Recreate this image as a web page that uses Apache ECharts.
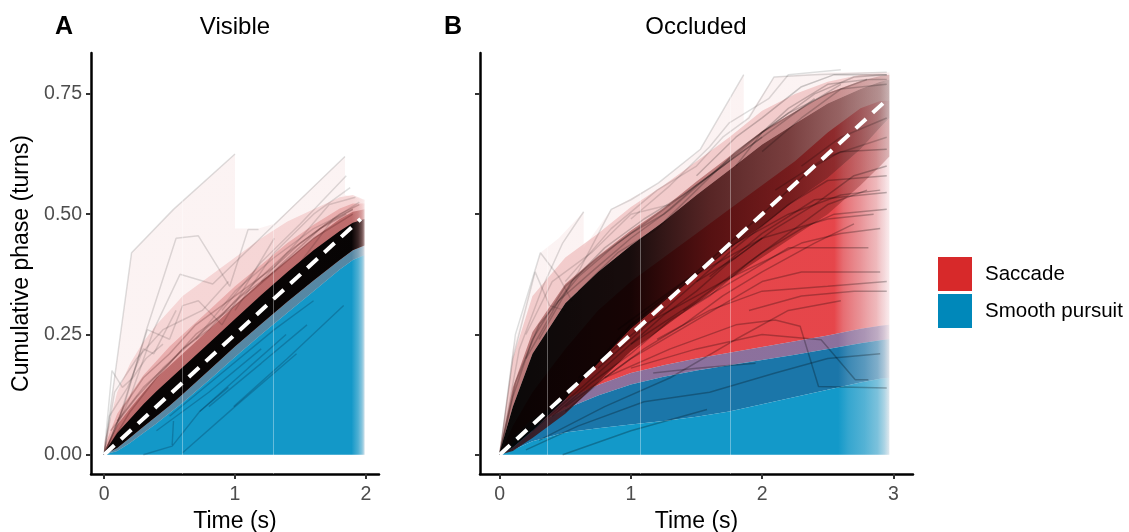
<!DOCTYPE html>
<html><head><meta charset="utf-8">
<script src="https://cdn.jsdelivr.net/npm/echarts@6/dist/echarts.min.js"></script>
<style>html,body{margin:0;padding:0;background:#fff}#c{width:1129px;height:532px}</style>
</head><body><div id="c"></div>
<script>
// ---------- tick labels ----------
const xTicksA = [0, 1, 2];
const xTicksB = [0, 1, 2, 3];
const yTicks = [0, 0.25, 0.5, 0.75];

// ---------- Panel A (Visible) ----------
const tA        = [0, 0.1, 0.2, 0.3, 0.4, 0.5, 0.6, 0.8, 1.0, 1.2, 1.4, 1.6, 1.8, 1.9, 1.99];
const blueTopA  = [0, 0.008, 0.025, 0.045, 0.065, 0.087, 0.108, 0.155, 0.203, 0.25, 0.295, 0.34, 0.385, 0.405, 0.415];
const coreLoA   = [0, 0.014, 0.036, 0.058, 0.08, 0.102, 0.126, 0.175, 0.225, 0.272, 0.318, 0.362, 0.405, 0.425, 0.435];
const coreHiA   = [0.004, 0.045, 0.075, 0.105, 0.132, 0.157, 0.182, 0.232, 0.282, 0.332, 0.38, 0.425, 0.465, 0.482, 0.49];
const haloHiA   = [0.008, 0.062, 0.097, 0.13, 0.16, 0.185, 0.21, 0.26, 0.31, 0.36, 0.405, 0.45, 0.49, 0.505, 0.51];
const pinkNearA = [0.015, 0.085, 0.125, 0.165, 0.195, 0.225, 0.25, 0.3, 0.35, 0.395, 0.44, 0.478, 0.512, 0.522, 0.522];
const pinkFarA  = [0.025, 0.13, 0.19, 0.235, 0.27, 0.3, 0.33, 0.37, 0.41, 0.45, 0.485, 0.51, 0.535, 0.54, 0.53];
const envAx     = [0, 0.21, 0.53, 1.0, 1.0, 1.18, 1.3, 1.84, 1.84, 1.99];
const envAy     = [0, 0.42, 0.51, 0.625, 0.47, 0.47, 0.48, 0.62, 0.54, 0.53];
const refA      = [[0, 0], [1.96, 0.49]];
const seamsA    = [0.6, 1.29];
const linesAUp = [
  [[0,0],[0.21,0.42],[0.53,0.51],[1.0,0.625]],
  [[0,0],[0.06,0.175],[0.14,0.14],[0.22,0.16],[0.32,0.2],[0.45,0.23]],
  [[0,0],[0.15,0.1],[0.33,0.265],[0.55,0.45],[0.72,0.455],[0.96,0.35],[1.1,0.468],[1.18,0.468]],
  [[0,0],[0.2,0.12],[0.38,0.26],[0.58,0.375],[0.83,0.355],[1.84,0.62]],
  [[0,0],[0.12,0.08],[0.33,0.26],[0.5,0.24],[0.6,0.31],[0.72,0.32],[0.9,0.27],[1.1,0.36],[1.3,0.45]],
  [[0,0],[0.08,0.13],[0.25,0.2],[0.45,0.26],[0.6,0.28],[0.75,0.3],[0.95,0.36]],
  [[0,0],[0.04,0.08],[0.18,0.14],[0.3,0.22],[0.38,0.21],[0.55,0.3]],
  [[0.9,0.3],[1.2,0.4],[1.5,0.48],[1.85,0.58]],
  [[1.0,0.3],[1.3,0.42],[1.6,0.5],[1.88,0.555]],
  [[1.2,0.36],[1.5,0.45],[1.72,0.52],[1.92,0.535]],
  [[1.5,0.4],[1.75,0.49],[1.95,0.525]],
  [[0.7,0.24],[1.0,0.34],[1.3,0.41],[1.6,0.47],[1.9,0.51]]
];
const linesABand = [
  [[0,0],[0.2,0.09],[0.4,0.16],[0.6,0.22],[0.8,0.26],[1.0,0.32],[1.2,0.37],[1.4,0.42],[1.6,0.46],[1.8,0.5],[1.95,0.52]],
  [[0,0],[0.15,0.1],[0.3,0.16],[0.5,0.21],[0.7,0.27],[0.9,0.31],[1.1,0.35],[1.3,0.39],[1.5,0.44],[1.7,0.48],[1.9,0.51]],
  [[0.1,0.07],[0.3,0.14],[0.5,0.19],[0.7,0.25],[1.0,0.31],[1.3,0.38],[1.6,0.45],[1.9,0.5]],
  [[0.05,0.05],[0.25,0.12],[0.45,0.18],[0.65,0.23],[0.85,0.28],[1.05,0.33],[1.25,0.37],[1.45,0.42],[1.65,0.47],[1.85,0.5]]
];
const linesALow = [
  [[0.3,0.0],[0.52,0.018],[0.73,0.09],[0.95,0.14]],
  [[0.6,0.004],[1.0,0.1],[1.47,0.21]],
  [[0.99,0.1],[1.4,0.2],[1.83,0.31]],
  [[0.73,0.09],[1.1,0.18],[1.39,0.25]],
  [[0.52,0.02],[0.53,0.07]],
  [[0.4,0.05],[0.8,0.13],[1.2,0.22]],
  [[0.5,0.08],[0.9,0.17],[1.3,0.26],[1.6,0.32]],
  [[0.8,0.1],[1.2,0.19],[1.55,0.27]]
];

// ---------- Panel B (Occluded) ----------
const tB         = [0, 0.1, 0.25, 0.5, 0.75, 1.0, 1.25, 1.5, 1.75, 2.0, 2.25, 2.5, 2.75, 2.9, 2.97];
const lightBlueB = [0, 0.01, 0.028, 0.046, 0.055, 0.063, 0.07, 0.079, 0.09, 0.105, 0.12, 0.135, 0.15, 0.158, 0.16];
const darkBlueB  = [0, 0.025, 0.06, 0.095, 0.123, 0.146, 0.162, 0.175, 0.186, 0.197, 0.208, 0.22, 0.232, 0.238, 0.24];
const purpleB    = [0, 0.035, 0.075, 0.115, 0.145, 0.17, 0.186, 0.2, 0.212, 0.224, 0.236, 0.248, 0.262, 0.268, 0.27];
const redTopB    = [0, 0.06, 0.13, 0.22, 0.3, 0.36, 0.41, 0.46, 0.51, 0.56, 0.61, 0.67, 0.72, 0.735, 0.735];
const haloLoB    = [0, 0.008, 0.035, 0.085, 0.15, 0.215, 0.265, 0.315, 0.365, 0.41, 0.455, 0.5, 0.56, 0.6, 0.62];
const coreLoB    = [0, 0.015, 0.05, 0.115, 0.19, 0.262, 0.318, 0.372, 0.428, 0.475, 0.528, 0.575, 0.635, 0.68, 0.7];
const coreHiB    = [0.005, 0.10, 0.21, 0.315, 0.38, 0.435, 0.485, 0.54, 0.592, 0.645, 0.688, 0.73, 0.76, 0.775, 0.78];
const haloHiB    = [0.008, 0.14, 0.255, 0.355, 0.413, 0.466, 0.513, 0.568, 0.62, 0.673, 0.713, 0.752, 0.777, 0.787, 0.79];
const pinkHiB    = [0.012, 0.2, 0.33, 0.41, 0.46, 0.515, 0.56, 0.61, 0.66, 0.715, 0.75, 0.775, 0.79, 0.793, 0.793];
const envBx      = [0, 0.1, 0.31, 0.45, 0.64, 0.64, 0.85, 1.21, 1.53, 1.86, 1.86, 2.09, 2.5, 2.97];
const envBy      = [0, 0.22, 0.42, 0.45, 0.505, 0.43, 0.51, 0.565, 0.635, 0.79, 0.69, 0.785, 0.795, 0.795];
const refB       = [[0, 0], [2.94, 0.735]];
const seamsB     = [0.36, 1.07, 1.765];
const linesBUp = [
  [[0,0],[0.1,0.2],[0.27,0.38],[0.38,0.31],[0.5,0.3]],
  [[0,0],[0.12,0.25],[0.31,0.42],[0.45,0.37],[0.55,0.32]],
  [[0,0],[0.15,0.22],[0.33,0.35],[0.48,0.44],[0.64,0.505]],
  [[0.4,0.3],[0.6,0.38],[0.85,0.51],[1.0,0.53],[1.21,0.565],[1.53,0.635],[1.86,0.79]],
  [[0.5,0.36],[0.85,0.47],[1.2,0.55],[1.5,0.6],[1.7,0.66],[1.9,0.7],[2.09,0.785],[2.4,0.79],[2.95,0.795]],
  [[1.0,0.49],[1.3,0.56],[1.6,0.64],[1.75,0.69],[2.05,0.74],[2.2,0.79],[2.6,0.8]],
  [[0.2,0.25],[0.4,0.36],[0.7,0.42],[1.0,0.5],[1.3,0.52]]
];
const linesBMid = [
  [[1.5,0.58],[1.8,0.66],[2.0,0.7],[2.3,0.765],[2.55,0.79],[2.95,0.79]],
  [[1.8,0.6],[2.0,0.67],[2.2,0.72],[2.5,0.77],[2.8,0.78],[2.95,0.78]],
  [[2.0,0.63],[2.3,0.7],[2.6,0.76],[2.95,0.77]],
  [[2.3,0.6],[2.6,0.66],[2.95,0.7]],
  [[2.1,0.55],[2.5,0.62],[2.95,0.66]],
  [[0,0],[0.1,0.12],[0.25,0.24],[0.5,0.35],[0.75,0.41],[1.0,0.46],[1.25,0.5],[1.5,0.56],[1.75,0.61],[2.0,0.66]],
  [[0,0],[0.12,0.15],[0.3,0.27],[0.6,0.37],[0.9,0.44],[1.2,0.5],[1.45,0.55],[1.8,0.62],[2.1,0.68],[2.4,0.74]],
  [[0.2,0.2],[0.45,0.32],[0.7,0.38],[1.0,0.45],[1.3,0.51],[1.6,0.58],[1.9,0.65],[2.2,0.71],[2.5,0.75],[2.8,0.78]],
  [[0.3,0.24],[0.55,0.36],[0.8,0.43],[1.1,0.49],[1.4,0.54],[1.7,0.6],[2.0,0.67],[2.3,0.72],[2.6,0.77]],
  [[0.6,0.34],[0.9,0.42],[1.2,0.47],[1.5,0.55],[1.8,0.63],[2.1,0.69],[2.4,0.75],[2.7,0.785],[2.95,0.79]]
];
const linesBLow = [
  [[0.5,0.12],[1.0,0.27],[1.5,0.38],[2.0,0.5],[2.4,0.6],[2.6,0.63],[2.95,0.635]],
  [[0.75,0.18],[1.25,0.3],[1.75,0.42],[2.2,0.52],[2.5,0.57],[2.95,0.58]],
  [[1.0,0.23],[1.5,0.32],[2.0,0.42],[2.3,0.47],[2.55,0.5],[2.95,0.51]],
  [[0.5,0.1],[1.0,0.2],[1.5,0.28],[2.0,0.36],[2.3,0.38],[2.9,0.38]],
  [[1.2,0.24],[1.6,0.3],[2.0,0.34],[2.5,0.35],[2.95,0.36]],
  [[1.4,0.3],[1.9,0.38],[2.2,0.43],[2.81,0.43]],
  [[0.8,0.16],[1.3,0.22],[1.8,0.27],[2.1,0.28],[2.29,0.267],[2.43,0.142],[2.95,0.139]],
  [[1.0,0.18],[1.5,0.22],[2.0,0.25],[2.45,0.239],[2.71,0.156],[2.81,0.156]],
  [[0.48,0.0],[1.0,0.05],[1.58,0.094]],
  [[1.17,0.17],[1.5,0.18],[1.95,0.19]],
  [[0.3,0.03],[0.8,0.1],[1.3,0.16],[1.8,0.24],[2.2,0.3],[2.6,0.32]],
  [[1.6,0.37],[2.0,0.46],[2.4,0.53],[2.95,0.545]],
  [[0.6,0.16],[1.1,0.27],[1.7,0.36],[2.3,0.44],[2.6,0.46],[2.9,0.47]],
  [[1.9,0.3],[2.3,0.33],[2.7,0.34],[2.95,0.34]],
  [[1.3,0.33],[1.8,0.44],[2.2,0.5],[2.6,0.54],[2.9,0.55]],
  [[0.9,0.26],[1.4,0.36],[2.0,0.45],[2.5,0.49],[2.85,0.5]],
  [[0.2,0.01],[0.6,0.06],[1.1,0.11],[1.6,0.13],[2.1,0.17],[2.5,0.2],[2.9,0.21]],
  [[0.25,0.05],[0.5,0.11],[0.75,0.17],[1.0,0.23],[1.25,0.29],[1.5,0.34],[1.75,0.4],[2.0,0.45]],
  [[0.4,0.08],[0.7,0.15],[1.0,0.21],[1.3,0.28],[1.6,0.33],[1.9,0.4],[2.2,0.46],[2.5,0.52],[2.8,0.55]],
  [[0.5,0.09],[0.8,0.16],[1.1,0.22],[1.4,0.27],[1.7,0.33],[2.0,0.38],[2.4,0.44],[2.7,0.48]],
  [[1.5,0.36],[1.8,0.41],[2.1,0.47],[2.4,0.52],[2.7,0.58],[2.95,0.6]]
];

// ---------- styling helpers ----------
const FONT = '"Liberation Sans", Arial, sans-serif';
const fadeA = [[0,1],[1.89,1],[1.94,0.75],[1.97,0.5],[1.99,0.2]];
const fadeB = [[0,1],[2.58,1],[2.66,0.85],[2.78,0.72],[2.88,0.55],[2.93,0.35],[2.97,0.12]];
function fade(rgb, a, f) { return f.map(s => [s[0], 'rgba(' + rgb + ',' + (a * s[1]).toFixed(3) + ')']); }

function grad(api, stops) {
  const x0 = api.coord([stops[0][0], 0])[0];
  const x1 = api.coord([stops[stops.length - 1][0], 0])[0];
  return new echarts.graphic.LinearGradient(x0, 0, x1, 0,
    stops.map(s => ({ offset: Math.min(1, Math.max(0, (api.coord([s[0], 0])[0] - x0) / (x1 - x0))), color: s[1] })), true);
}
function poly(g, xs, lo, hi, stops, name, legendColor) {
  const s = {
    type: 'custom', xAxisIndex: g, yAxisIndex: g, silent: true, animation: false, z: 2,
    data: xs.map((x, i) => [x, hi[i]]), encode: { x: 0, y: 1 },
    renderItem: function (params, api) {
      if (params.dataIndex !== 0) return null;
      const pts = [];
      for (let i = 0; i < xs.length; i++) pts.push(api.coord([xs[i], hi[i]]));
      for (let i = xs.length - 1; i >= 0; i--) pts.push(api.coord([xs[i], lo ? lo[i] : 0]));
      return { type: 'polygon', shape: { points: pts }, style: { fill: grad(api, stops) } };
    }
  };
  if (name) { s.name = name; s.itemStyle = { color: legendColor }; }
  return s;
}
function trial(g, pts, color, w) {
  return { type: 'line', xAxisIndex: g, yAxisIndex: g, data: pts, symbol: 'none', silent: true,
    animation: false, z: 3, lineStyle: { color: color, width: w } };
}
function ref(g, pts) {
  return { type: 'line', xAxisIndex: g, yAxisIndex: g, data: pts, symbol: 'none', silent: true,
    animation: false, z: 4, lineStyle: { color: '#ffffff', width: 4, type: [14, 9] } };
}
function seams(g, xs) {
  return { type: 'line', xAxisIndex: g, yAxisIndex: g, data: [], silent: true, animation: false, z: 2,
    markLine: { symbol: 'none', silent: true, animation: false, label: { show: false },
      lineStyle: { color: 'rgba(255,255,255,0.35)', width: 1, type: 'solid' },
      data: xs.map(v => ({ xAxis: v })) } };
}

const series = [];
// Panel A fills
series.push(poly(0, envAx, null, envAy, [[0,'rgba(240,200,200,0.22)'],[1.99,'rgba(240,200,200,0.22)']]));
series.push(poly(0, tA, coreLoA, pinkFarA, fade('240,185,185', 0.5, fadeA)));
series.push(poly(0, tA, coreLoA, pinkNearA, fade('222,135,135', 0.5, fadeA)));
series.push(poly(0, tA, null, blueTopA, fade('19,152,200', 1, fadeA)));
series.push(poly(0, tA, blueTopA, coreLoA, fade('16,90,130', 0.7, fadeA)));
series.push(poly(0, tA, coreLoA, haloHiA, fade('160,65,65', 0.6, fadeA)));
series.push(poly(0, tA, coreLoA, coreHiA, fade('0,0,0', 0.96, fadeA)));
series.push(seams(0, seamsA));
// Panel B fills
series.push(poly(1, envBx, null, envBy, [[0,'rgba(240,200,200,0.22)'],[2.97,'rgba(240,200,200,0.22)']]));
series.push(poly(1, tB, coreLoB, pinkHiB, fade('236,178,178', 0.6, fadeB)));
series.push(poly(1, tB, purpleB, redTopB,
  [[0,'rgba(228,55,60,0.92)'],[2.55,'rgba(228,55,60,0.92)'],[2.62,'rgba(226,80,86,0.82)'],[2.75,'rgba(226,110,116,0.72)'],[2.87,'rgba(230,145,150,0.6)'],[2.93,'rgba(236,182,188,0.45)'],[2.97,'rgba(245,215,220,0.3)']],
  'Saccade', '#D7292A'));
series.push(poly(1, tB, darkBlueB, purpleB, fade('112,80,135', 0.8, fadeB)));
series.push(poly(1, tB, lightBlueB, darkBlueB, fade('27,118,169', 1, fadeB)));
series.push(poly(1, tB, null, lightBlueB, fade('19,153,201', 1, fadeB), 'Smooth pursuit', '#0088BA'));
series.push(poly(1, tB, haloLoB, coreLoB,
  [[0,'rgba(50,5,5,0.8)'],[1.5,'rgba(120,20,20,0.7)'],[2.5,'rgba(140,35,35,0.55)'],[2.97,'rgba(150,60,60,0.3)']]));
series.push(poly(1, tB, coreHiB, haloHiB,
  [[0,'rgba(140,55,55,0.55)'],[1.5,'rgba(150,60,60,0.55)'],[2.5,'rgba(155,75,75,0.5)'],[2.97,'rgba(165,95,95,0.35)']]));
series.push(poly(1, tB, coreLoB, coreHiB,
  [[0,'rgba(0,0,0,0.96)'],[1.0,'rgba(10,0,0,0.94)'],[1.6,'rgba(60,8,8,0.85)'],[2.2,'rgba(80,15,15,0.75)'],[2.6,'rgba(90,30,30,0.6)'],[2.9,'rgba(100,50,50,0.45)'],[2.97,'rgba(110,70,70,0.35)']]));
series.push(seams(1, seamsB));
// trial lines
linesAUp.forEach(p => series.push(trial(0, p, 'rgba(0,0,0,0.13)', 1.5)));
linesABand.forEach(p => series.push(trial(0, p, 'rgba(40,0,0,0.2)', 1.5)));
linesALow.forEach(p => series.push(trial(0, p, 'rgba(0,20,40,0.22)', 1.4)));
linesBUp.forEach(p => series.push(trial(1, p, 'rgba(0,0,0,0.13)', 1.5)));
linesBMid.forEach(p => series.push(trial(1, p, 'rgba(0,0,0,0.2)', 1.5)));
linesBLow.forEach(p => series.push(trial(1, p, 'rgba(0,0,0,0.26)', 1.5)));
// reference lines
series.push(ref(0, refA));
series.push(ref(1, refB));

function xAxis(g, min, max, ticks) {
  return { gridIndex: g, type: 'value', min: min, max: max, splitLine: { show: false },
    axisLine: { show: true, onZero: false, lineStyle: { color: '#000', width: 2.5 } },
    axisTick: { show: true, customValues: ticks, length: 5, lineStyle: { color: '#333', width: 2 } },
    axisLabel: { customValues: ticks, color: '#4d4d4d', fontSize: 19.5, fontFamily: FONT, margin: 11 },
    name: 'Time (s)', nameLocation: 'middle', nameGap: 35,
    nameTextStyle: { color: '#000', fontSize: 23, fontFamily: FONT } };
}
function yAxis(g, showLabels) {
  const a = { gridIndex: g, type: 'value', min: -0.04, max: 0.835, splitLine: { show: false },
    axisLine: { show: true, onZero: false, lineStyle: { color: '#000', width: 2.5 } },
    axisTick: { show: true, customValues: yTicks, length: 5, lineStyle: { color: '#333', width: 2 } },
    axisLabel: { show: showLabels, customValues: yTicks, color: '#4d4d4d', fontSize: 19.5, fontFamily: FONT, margin: 9,
      formatter: v => Number(v).toFixed(2) } };
  if (showLabels) {
    a.name = 'Cumulative phase (turns)'; a.nameLocation = 'middle'; a.nameGap = 58;
    a.nameTextStyle = { color: '#000', fontSize: 23, fontFamily: FONT };
  }
  return a;
}

const chart = echarts.init(document.getElementById('c'), null, { renderer: 'canvas' });
chart.setOption({
  animation: false,
  backgroundColor: '#ffffff',
  grid: [
    { left: 91, top: 53, width: 288, height: 421, outerBoundsMode: 'none', containLabel: false },
    { left: 480, top: 53, width: 433, height: 421, outerBoundsMode: 'none', containLabel: false }
  ],
  xAxis: [xAxis(0, -0.1, 2.1, xTicksA), xAxis(1, -0.15, 3.15, xTicksB)],
  yAxis: [yAxis(0, true), yAxis(1, false)],
  legend: {
    orient: 'vertical', left: 938, top: 257, itemWidth: 34, itemHeight: 34, itemGap: 3, padding: 0,
    icon: 'rect', selectedMode: false,
    textStyle: { fontSize: 20.5, color: '#000', fontFamily: FONT, padding: [0, 0, 0, 8] },
    data: [
      { name: 'Saccade', icon: 'rect', itemStyle: { color: '#D7292A', borderWidth: 0 } },
      { name: 'Smooth pursuit', icon: 'rect', itemStyle: { color: '#0088BA', borderWidth: 0 } }
    ]
  },
  graphic: [
    { type: 'text', x: 64, y: 27, style: { text: 'A', font: 'bold 25px ' + FONT, fill: '#000', align: 'center', verticalAlign: 'middle' } },
    { type: 'text', x: 235, y: 27, style: { text: 'Visible', font: '24px ' + FONT, fill: '#000', align: 'center', verticalAlign: 'middle' } },
    { type: 'text', x: 453, y: 27, style: { text: 'B', font: 'bold 25px ' + FONT, fill: '#000', align: 'center', verticalAlign: 'middle' } },
    { type: 'text', x: 696, y: 27, style: { text: 'Occluded', font: '24px ' + FONT, fill: '#000', align: 'center', verticalAlign: 'middle' } }
  ],
  series: series
});
</script>
</body></html>
